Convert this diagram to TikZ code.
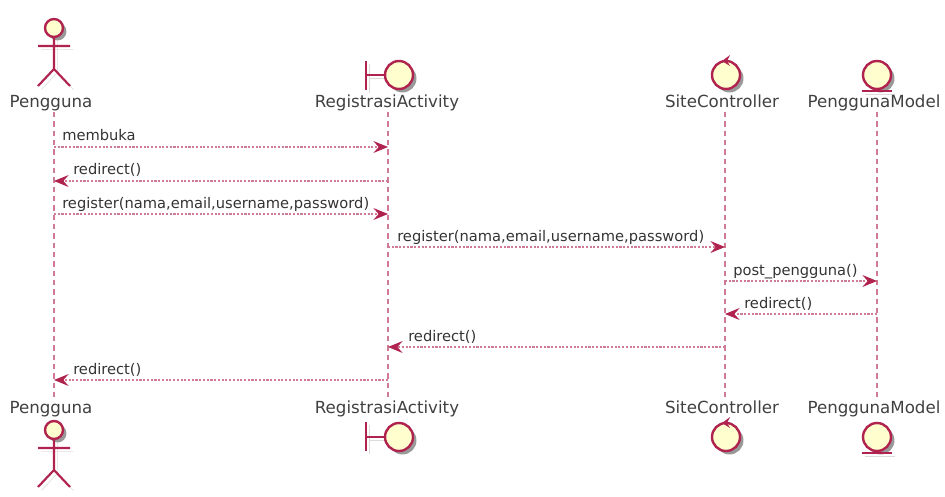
\documentclass[tikz,border=0pt]{standalone}
\usepackage{fontspec}
\setmainfont{DejaVu Sans}
\usetikzlibrary{arrows.meta,shadows}
\definecolor{umlline}{HTML}{B0234F}
\definecolor{umlfill}{HTML}{FEFECE}
\tikzset{
	umlshape/.style={draw=umlline,fill=umlfill,line width=1.8pt,drop shadow={shadow xshift=2.6pt,shadow yshift=-2.6pt,opacity=.4,fill=black}},
	umlstroke/.style={draw=umlline,line width=1.6pt,preaction={draw=black,opacity=.14,transform canvas={shift={(2.6pt,-2.6pt)}}}},
	lifeline/.style={draw=umlline!60!white,line width=.9pt,dash pattern=on 4pt off 3pt},
	message/.style={draw=umlline!60!white,line width=.8pt,dash pattern=on 1.6pt off 1.2pt,-{Stealth[length=11pt,width=9pt,inset=4pt,color=umlline,fill=umlline]}},
	partlabel/.style={text=black!75,font=\fontsize{12.5}{14}\selectfont,inner sep=0pt,anchor=base},
	msglabel/.style={text=black!80,font=\fontsize{11}{13}\selectfont,inner sep=0pt,anchor=base west}
}
\begin{document}
\begin{tikzpicture}[x=.75pt,y=-.75pt]
			\useasboundingbox (0,0) rectangle (945,496);
			%participants top%
			\node [partlabel] (penggunaTop) at (51,107) {Pengguna};
			\node [partlabel] (registrasiTop) at (387,107) {RegistrasiActivity};
			\node [partlabel] (siteTop) at (722,107) {SiteController};
			\node [partlabel] (modelTop) at (874,107) {PenggunaModel};
			%participants bottom%
			\node [partlabel] (penggunaBot) at (51,413) {Pengguna};
			\node [partlabel] (registrasiBot) at (387,413) {RegistrasiActivity};
			\node [partlabel] (siteBot) at (722,413) {SiteController};
			\node [partlabel] (modelBot) at (874,413) {PenggunaModel};
			%lifelines%
			\coordinate (p0) at (54,112);
			\coordinate (p9) at (54,398);
			\coordinate (r0) at (388,112);
			\coordinate (r9) at (388,398);
			\coordinate (s0) at (725,112);
			\coordinate (s9) at (725,398);
			\coordinate (m0) at (877,112);
			\coordinate (m9) at (877,398);
			\draw [lifeline] (p0)--(p9);
			\draw [lifeline] (r0)--(r9);
			\draw [lifeline] (s0)--(s9);
			\draw [lifeline] (m0)--(m9);
			%actor%
			\filldraw [umlshape] (54,28) circle (9);
			\draw [umlstroke] (54,37)--(54,69) (38,46)--(70,46) (38,86)--(54,69)--(70,86);
			\filldraw [umlshape] (54,430) circle (9);
			\draw [umlstroke] (54,439)--(54,470) (38,448)--(70,448) (38,487)--(54,470)--(70,487);
			%boundary%
			\draw [umlstroke] (366,61)--(366,90) (366,75)--(385,75);
			\filldraw [umlshape] (399,75) circle (14);
			\draw [umlstroke] (366,422)--(366,451) (366,437)--(385,437);
			\filldraw [umlshape] (399,437) circle (14);
			%control%
			\filldraw [umlshape] (726,75) circle (14);
			\fill [umlline] (722,61)--(730,55)--(727,61)--(730,66)--cycle;
			\filldraw [umlshape] (726,437) circle (14);
			\fill [umlline] (722,423)--(730,417)--(727,423)--(730,428)--cycle;
			%entity%
			\filldraw [umlshape] (877,75) circle (14);
			\draw [umlstroke] (862,91)--(892,91);
			\filldraw [umlshape] (877,437) circle (14);
			\draw [umlstroke] (862,453)--(892,453);
			%messages%
			\coordinate (p1) at (54,147);
			\coordinate (r1) at (388,147);
			\coordinate (p2) at (54,181);
			\coordinate (r2) at (388,181);
			\coordinate (p3) at (54,214);
			\coordinate (r3) at (388,214);
			\coordinate (r4) at (388,247);
			\coordinate (s4) at (725,247);
			\coordinate (s5) at (725,281);
			\coordinate (m5) at (877,281);
			\coordinate (s6) at (725,314);
			\coordinate (m6) at (877,314);
			\coordinate (r7) at (388,347);
			\coordinate (s7) at (725,347);
			\coordinate (p8) at (54,380);
			\coordinate (r8) at (388,380);
			\draw [message] (p1)--(r1);
			\draw [message] (r2)--(p2);
			\draw [message] (p3)--(r3);
			\draw [message] (r4)--(s4);
			\draw [message] (s5)--(m5);
			\draw [message] (m6)--(s6);
			\draw [message] (s7)--(r7);
			\draw [message] (r8)--(p8);
			\node [msglabel] (membuka) at (62,140) {membuka};
			\node [msglabel] (redirectA) at (73,174) {redirect()};
			\node [msglabel] (registerA) at (62,208) {register(nama,email,username,password)};
			\node [msglabel] (registerB) at (397,241) {register(nama,email,username,password)};
			\node [msglabel] (postPengguna) at (733,275) {post\_pengguna()};
			\node [msglabel] (redirectB) at (744,308) {redirect()};
			\node [msglabel] (redirectC) at (408,341) {redirect()};
			\node [msglabel] (redirectD) at (73,374) {redirect()};
			\end{tikzpicture}
\end{document}
